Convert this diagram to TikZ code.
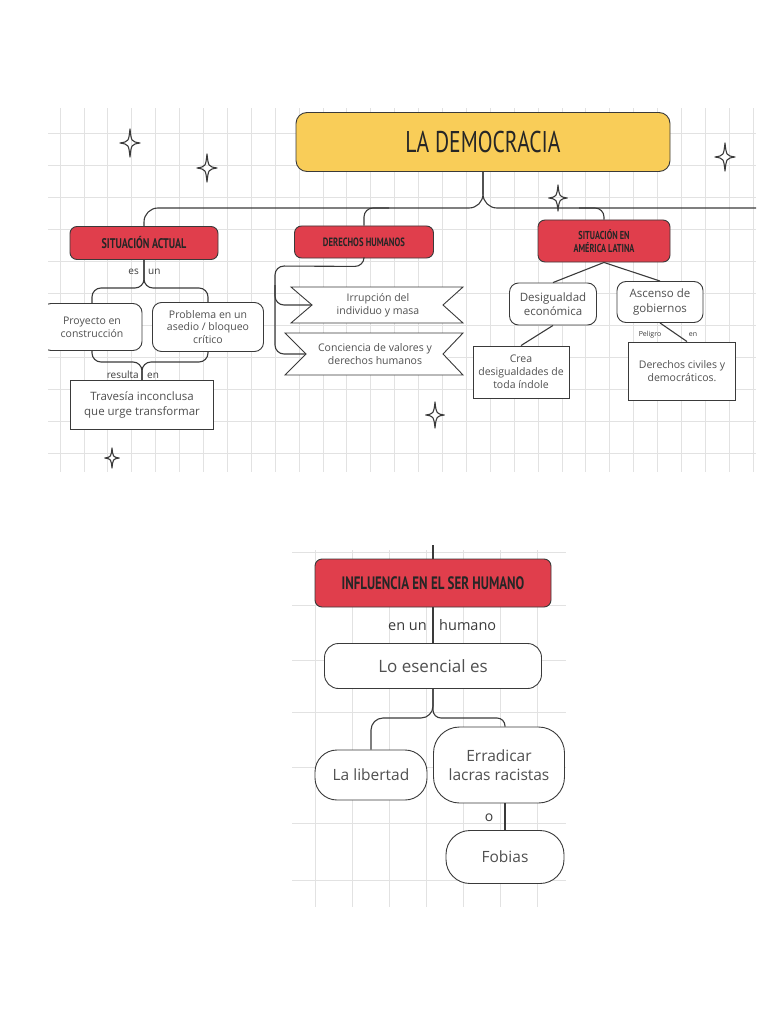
\documentclass[tikz,border=0pt]{standalone}
\usepackage{fontspec}
\setmainfont{Open Sans}
\newfontfamily\capsfont[FakeStretch=0.72]{PT Sans}
\usepackage{tikz}
\usetikzlibrary{positioning, calc}
\usepackage{xcolor}
\definecolor{boxred}{RGB}{224,62,76}
\definecolor{boxyellow}{RGB}{249,205,88}
\definecolor{inkgray}{RGB}{58,58,58}
\definecolor{textgray}{RGB}{80,80,80}
\definecolor{gridgray}{RGB}{226,226,226}

\tikzset{
  redbox/.style={draw=inkgray, fill=boxred, rounded corners=7pt, align=center, inner sep=2pt, text=black!85, line width=0.9pt},
  softbox/.style={draw=inkgray, fill=white, rounded corners=9pt, align=center, inner sep=1pt, text=textgray, line width=0.9pt},
  plainbox/.style={draw=inkgray, fill=white, align=center, inner sep=1pt, text=textgray, line width=0.9pt},
  link/.style={draw=inkgray, line width=1.1pt, rounded corners=9pt},
  tag/.style={inner sep=1pt, text=inkgray, font=\fontsize{10}{11}\selectfont},
  txtS/.style={font=\fontsize{10.5}{12.8}\selectfont},
  txtM/.style={font=\fontsize{11.5}{14.5}\selectfont},
  txtL/.style={font=\fontsize{15.5}{19}\selectfont},
}

% four point sparkle, centre x y, half height
\newcommand{\sparkle}[3]{%
  \draw[inkgray, line width=1.1pt, line join=round]
    (#1,#2-#3) .. controls (#1+0.1*#3,#2-0.1*#3) .. (#1+0.72*#3,#2)
    .. controls (#1+0.1*#3,#2+0.1*#3) .. (#1,#2+#3)
    .. controls (#1-0.1*#3,#2+0.1*#3) .. (#1-0.72*#3,#2)
    .. controls (#1-0.1*#3,#2-0.1*#3) .. cycle;}

\begin{document}
\begin{tikzpicture}[x=1pt, y=-1pt]
  \useasboundingbox (0,0) rectangle (768,1024);

  % ---- upper map ----
  \begin{scope}
    \clip (48,108) rectangle (756,472);
    \foreach \gx in {60,83.9,...,756} \draw[gridgray, line width=0.7pt] (\gx,108) -- (\gx,472);
    \foreach \gy in {133,165,...,472} \draw[gridgray, line width=0.7pt] (48,\gy) -- (756,\gy);

    \node[draw=inkgray, fill=boxyellow, rounded corners=11pt, line width=0.9pt, minimum width=374pt, minimum height=59pt,
      font=\capsfont\fontsize{30}{32}\selectfont, text=black!85] (demo) at (483,142) {LA DEMOCRACIA};

    \node[redbox, minimum width=148pt, minimum height=33pt, font=\capsfont\bfseries\fontsize{14}{14}\selectfont] (sitact) at (144,243) {SITUACIÓN ACTUAL};
    \node[redbox, minimum width=139pt, minimum height=32pt, font=\capsfont\bfseries\fontsize{12}{12}\selectfont] (derech) at (364,242) {DERECHOS HUMANOS};
    \node[redbox, minimum width=132pt, minimum height=42pt, font=\capsfont\bfseries\fontsize{11.5}{11.5}\selectfont] (sitam) at (604,241) {SITUACIÓN EN\\[2pt]AMÉRICA LATINA};

    \node[softbox, txtS, minimum width=100pt, minimum height=47pt] (proy) at (92,327) {Proyecto en\\construcción};
    \node[softbox, txtS, minimum width=111pt, minimum height=49pt] (probl) at (208,327) {Problema en un\\asedio / bloqueo\\crítico};
    \node[plainbox, txtM, minimum width=143pt, minimum height=49pt] (trav) at (142,405) {Travesía inconclusa\\que urge transformar};

    % ribbons
    \draw[inkgray, line width=0.9pt, fill=white] (291,287) -- (463,287) -- (443,305) -- (463,323) -- (291,323) -- (312,305) -- cycle;
    \draw[inkgray, line width=0.9pt, fill=white] (285,333) -- (463,333) -- (443,354) -- (463,375) -- (285,375) -- (306,354) -- cycle;
    \coordinate (b1n) at (312,305);
    \coordinate (b2n) at (306,354);
    \node[align=center, text=textgray, txtS] (b1) at (378,305) {Irrupción del\\individuo y masa};
    \node[align=center, text=textgray, txtS] (b2) at (375,354) {Conciencia de valores y\\derechos humanos};

    \node[softbox, font=\fontsize{11.5}{14.5}\selectfont, minimum width=87pt, minimum height=42pt] (desig) at (553,304) {Desigualdad\\económica};
    \node[softbox, font=\fontsize{11.5}{14.5}\selectfont, minimum width=86pt, minimum height=41pt] (asc) at (660,302) {Ascenso de\\gobiernos};
    \node[plainbox, txtS, minimum width=96pt, minimum height=52pt] (crea) at (521,372) {Crea\\desigualdades de\\toda índole};
    \node[plainbox, txtS, minimum width=107pt, minimum height=58pt] (dcivil) at (682,371) {Derechos civiles y\\democráticos.};

    % connectors
    \coordinate (edgeR) at (780,208);
    \draw[link, rounded corners=14pt] (demo.south) -- (demo.south |- 0,208) -- (sitact.north |- 0,208) -- (sitact.north);
    \draw[link, rounded corners=14pt] (demo.south) -- (demo.south |- 0,208) -- (edgeR);
    \draw[link] (derech.north) -- (derech.north |- 0,208) -- ++(25,0);
    \draw[link] (sitam.north) -- (sitam.north |- 0,208) -- ++(-25,0);

    \draw[link] (sitact.south) -- (sitact.south |- 0,288) -- (proy.north |- 0,288) -- (proy.north);
    \draw[link] (sitact.south) -- (sitact.south |- 0,288) -- (probl.north |- 0,288) -- (probl.north);
    \node[tag, anchor=base east] (lblEs) at (140,274) {es};
    \node[tag, anchor=base west] (lblUn) at (147,274) {un};

    \draw[link] (proy.south) -- (proy.south |- 0,362) -- (trav.north |- 0,362) -- (trav.north);
    \draw[link] (probl.south) -- (probl.south |- 0,362) -- (trav.north |- 0,362) -- (trav.north);
    \node[tag, anchor=base east] (lblResulta) at (140,378) {resulta};
    \node[tag, anchor=base west] (lblEn) at (146,378) {en};

    \draw[link] (derech.south) -- ++(0,8) -- (275,266) -- (275,354) -- (b2n);
    \draw[link] (275,285) -- (275,305) -- (b1n);

    \draw[link] (sitam.south) -- (desig.north);
    \draw[link] (sitam.south) -- (asc.north);
    \draw[link] (desig.south) -- (crea.north);
    \draw[link] (asc.south) -- ($(dcivil.north)+(5,0)$);
    \node[tag, anchor=base, font=\fontsize{7}{8}\selectfont] (lblPeligro) at (650,336) {Peligro};
    \node[tag, anchor=base, font=\fontsize{7}{8}\selectfont] (lblEnB) at (693,336) {en};

    \sparkle{130}{143}{14}
    \sparkle{207}{168}{14}
    \sparkle{725}{157}{14}
    \sparkle{558}{198}{13}
    \sparkle{435}{415}{13}
    \sparkle{112}{458}{10}
  \end{scope}

  % ---- lower map ----
  \begin{scope}
    \clip (292,550) rectangle (566,907);
    \foreach \gx in {315,352,...,566} \draw[gridgray, line width=0.7pt] (\gx,550) -- (\gx,907);
    \foreach \gy in {552,605,660,712,767,823,880} \draw[gridgray, line width=0.7pt] (292,\gy) -- (566,\gy);
  \end{scope}

  \coordinate (feed) at (433,545);
  \node[redbox, minimum width=236pt, minimum height=48pt, font=\capsfont\bfseries\fontsize{18}{18}\selectfont] (infl) at (433,583) {INFLUENCIA EN EL SER HUMANO};
  \node[softbox, rounded corners=14pt, font=\fontsize{17}{20}\selectfont, minimum width=217pt, minimum height=45pt] (esen) at (433,666) {Lo esencial es};
  \node[softbox, rounded corners=22pt, txtL, minimum width=112pt, minimum height=50pt] (lib) at (371,775) {La libertad};
  \node[softbox, rounded corners=26pt, txtL, minimum width=131pt, minimum height=76pt] (err) at (499,765) {Erradicar\\lacras racistas};
  \node[softbox, rounded corners=24pt, txtL, minimum width=118pt, minimum height=53pt] (fob) at (505,857) {Fobias};

  \draw[link] (feed) -- (infl.north);
  \draw[link] (infl.south) -- (esen.north);
  \node[tag, anchor=base east, font=\fontsize{14.5}{16}\selectfont] (lblEnUn) at (428,630) {en un};
  \node[tag, anchor=base west, font=\fontsize{14.5}{16}\selectfont] (lblHumano) at (438,630) {humano};
  \draw[link, rounded corners=12pt] (esen.south) -- (esen.south |- 0,718) -- (lib.north |- 0,718) -- (lib.north);
  \draw[link, rounded corners=8pt] (esen.south) -- (esen.south |- 0,718) -- (fob.north |- 0,718) -- (fob.north |- err.north);
  \draw[link] (fob.north |- err.south) -- (fob.north);
  \node[tag, font=\fontsize{14}{16}\selectfont] (lblO) at (489,818) {o};
\end{tikzpicture}
\end{document}
